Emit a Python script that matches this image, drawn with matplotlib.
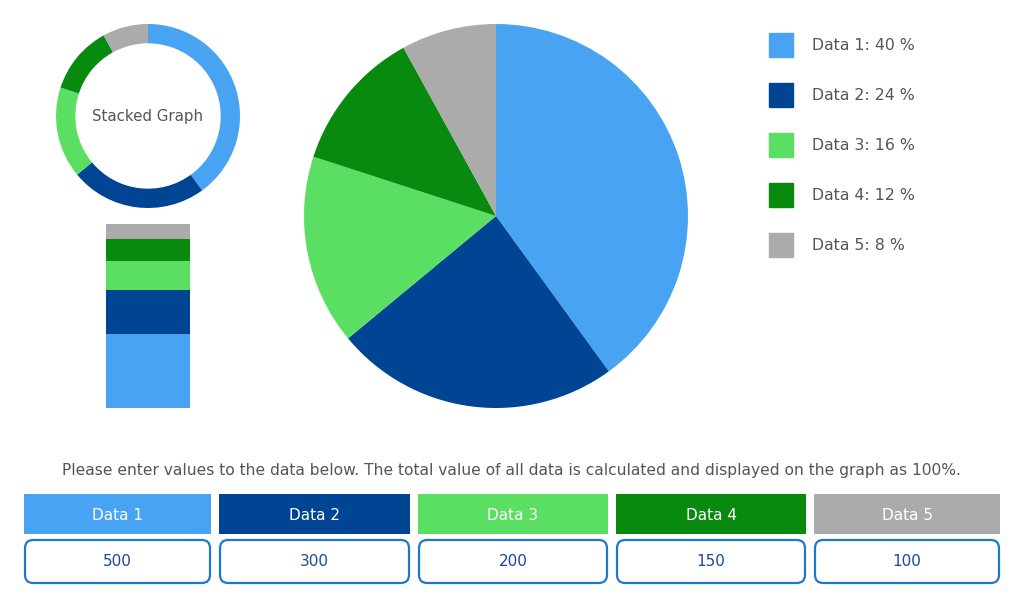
import matplotlib
matplotlib.use("Agg")
import matplotlib.pyplot as plt
from matplotlib.patches import Rectangle, FancyBboxPatch

plt.rcParams["font.family"] = ["DejaVu Sans"]

# data
labels = ["Data 1", "Data 2", "Data 3", "Data 4", "Data 5"]
values = [500, 300, 200, 150, 100]
colors = ["#48a3f3", "#004494", "#5bdf62", "#078a0e", "#ababab"]

total = sum(values)
percents = [v / total * 100 for v in values]

W, H = 1024, 600
fig = plt.figure(figsize=(W / 100, H / 100), dpi=100)
fig.patch.set_facecolor("white")
text_grey = "#555555"


def box(x0, y0, x1, y1):
    # pixel box (top-left origin) -> figure fraction rect
    return [x0 / W, 1 - y1 / H, (x1 - x0) / W, (y1 - y0) / H]


# big pie
ax = fig.add_axes(box(304, 24, 688, 408))
ax.pie(values, colors=colors, startangle=90, counterclock=False, radius=1,
       wedgeprops=dict(linewidth=0))
ax.set_xlim(-1, 1)
ax.set_ylim(-1, 1)
ax.set_aspect("equal")
ax.axis("off")

# small donut
ax2 = fig.add_axes(box(56, 24, 240, 208))
ax2.pie(values, colors=colors, startangle=90, counterclock=False, radius=1,
        wedgeprops=dict(width=0.21, linewidth=0))
ax2.set_xlim(-1, 1)
ax2.set_ylim(-1, 1)
ax2.set_aspect("equal")
ax2.axis("off")
ax2.text(0, 0, "Stacked Graph", ha="center", va="center", fontsize=10.8, color=text_grey)

# stacked bar
ax3 = fig.add_axes(box(106, 224, 190, 408))
bottom = 0
for v, c in zip(values, colors):
    ax3.bar(0, v, bottom=bottom, width=1, color=c, linewidth=0)
    bottom += v
ax3.set_xlim(-0.5, 0.5)
ax3.set_ylim(0, total)
ax3.axis("off")

# legend
for i, (lab, p, c) in enumerate(zip(labels, percents, colors)):
    y = 33 + i * 50
    fig.patches.append(Rectangle((769 / W, 1 - (y + 24) / H), 24 / W, 24 / H,
                                 transform=fig.transFigure, color=c))
    fig.text(812 / W, 1 - (y + 12) / H, f"{lab}: {p:.0f} %", ha="left", va="center",
             fontsize=11.3, color=text_grey)

fig.text(511 / W, 1 - 470 / H,
         "Please enter values to the data below. The total value of all data "
         "is calculated and displayed on the graph as 100%.",
         ha="center", va="center", fontsize=11.2, color=text_grey)

# input table
head_x = [(24, 211), (219, 410), (418, 608), (616, 806), (814, 1000)]
for (x0, x1), lab, v, c in zip(head_x, labels, values, colors):
    fig.patches.append(Rectangle((x0 / W, 1 - 534 / H), (x1 - x0) / W, 40 / H,
                                 transform=fig.transFigure, color=c, linewidth=0))
    fig.text((x0 + x1) / 2 / W, 1 - 516 / H, lab, ha="center", va="center",
             fontsize=11, color="white")
    fig.patches.append(FancyBboxPatch(((x0 + 1) / W, 1 - 583 / H), (x1 - x0 - 2) / W, 43 / H,
                                      boxstyle="round,pad=0,rounding_size=0.008",
                                      transform=fig.transFigure, facecolor="white",
                                      edgecolor="#1e78d0", linewidth=1.6,
                                      mutation_aspect=W / H))
    fig.text((x0 + x1) / 2 / W, 1 - 562 / H, str(v), ha="center", va="center",
             fontsize=11, color="#1a4a96")

fig.savefig("out.png", dpi=100, facecolor="white")
